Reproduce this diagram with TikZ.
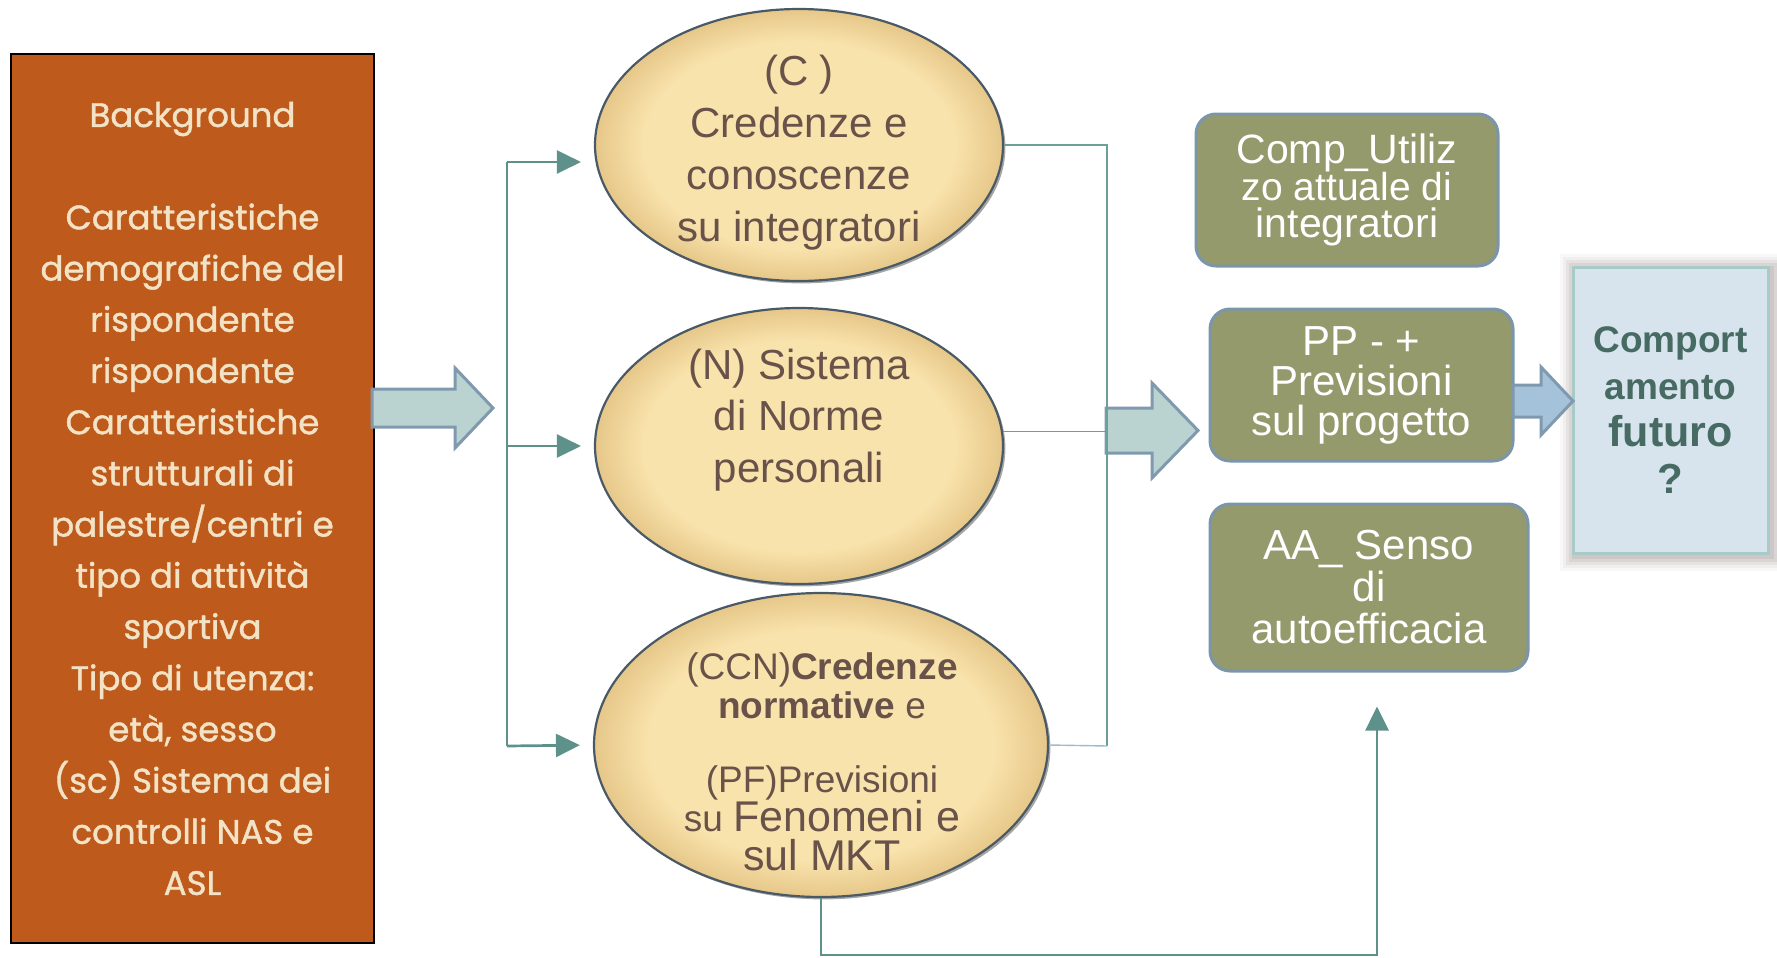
\documentclass[tikz,border=0pt]{standalone}
\usepackage{fontspec}
\setmainfont{Liberation Sans}
\newfontfamily\bgfont{Poppins}[FakeBold=1.2]
\usetikzlibrary{shapes.geometric,arrows.meta,calc,shadows,backgrounds}
\definecolor{orangebg}{HTML}{BE5B1C}
\definecolor{bgtext}{HTML}{F3E3C6}
\definecolor{conncol}{HTML}{5E918A}
\definecolor{thincol}{HTML}{6E9E99}
\definecolor{lbluecol}{HTML}{9BBBD0}
\definecolor{arrfill}{HTML}{BAD3D0}
\definecolor{arrdraw}{HTML}{7F99AF}
\definecolor{arrfilltwo}{HTML}{A4C2D9}
\definecolor{gfill}{HTML}{949A6B}
\definecolor{gborder}{HTML}{7B96AB}
\definecolor{cfill}{HTML}{D7E4EE}
\definecolor{cborder}{HTML}{A8CBC6}
\definecolor{ctext}{HTML}{476B63}
\definecolor{elllight}{HTML}{F9E3AC}
\definecolor{elldark}{HTML}{E6C789}
\definecolor{ellborder}{HTML}{4A5966}
\definecolor{elltext}{HTML}{68524A}
\definecolor{glowcol}{HTML}{B0A6A6}
\pgfdeclareradialshading{ellshade}{\pgfpoint{0bp}{0bp}}{color(0bp)=(elllight); color(19bp)=(elllight); color(25bp)=(elldark); color(50bp)=(elldark)}
\tikzset{
  bgbox/.style={draw=black, line width=1.2pt, fill=orangebg, minimum width=181.5pt, minimum height=444.5pt, inner sep=0pt, align=center, text=bgtext, font=\bgfont\fontsize{17}{25.6}\selectfont},
  ell/.style={ellipse, draw=ellborder, line width=1.1pt, shading=ellshade, inner sep=0pt, drop shadow={shadow xshift=1.2pt, shadow yshift=-1.2pt, opacity=0.35, fill=black}},
  elltxt/.style={align=center, text=elltext, inner sep=0pt},
  gbox/.style={rounded corners=10pt, draw=gborder, line width=1.5pt, fill=gfill, text=white, align=center, inner sep=0pt},
  cbox/.style={draw=cborder, line width=1.5pt, fill=cfill, text=ctext, align=center, inner sep=0pt, font=\bfseries\fontsize{18.5}{23.5}\selectfont},
  blockarrow/.style={draw=arrdraw, line width=1.5pt, line join=miter},
  conn/.style={draw=conncol, line width=1.35pt},
  connarrow/.style={conn, -{Triangle[length=12pt,width=11.5pt]}},
  thinconn/.style={draw=thincol, line width=0.7pt},
}
\begin{document}
\begin{tikzpicture}[x=0.5pt,y=-0.5pt]
\useasboundingbox (0,0) rectangle (1777,958);

% background box
\node[bgbox] (bg) at (192.5,498.5) {Background\\[25.6pt]Caratteristiche\\demografiche del\\rispondente\\rispondente\\Caratteristiche\\strutturali di\\palestre/centri e\\tipo di attività\\sportiva\\Tipo di utenza:\\età, sesso\\(sc) Sistema dei\\controlli NAS e\\ASL};

% ellipses
\node[ell, minimum width=204pt, minimum height=136pt] (e1) at (799,145) {};
\node[ell, minimum width=204pt, minimum height=138pt] (e2) at (799,446) {};
\node[ell, minimum width=227pt, minimum height=152pt] (e3) at (821,745) {};

\node[elltxt, font=\fontsize{21}{26}\selectfont] (t1) at (799,153) {(C )\\Credenze e\\conoscenze\\su integratori};
\node[elltxt, font=\fontsize{21}{25.8}\selectfont] (t2) at (799,420) {(N) Sistema\\di Norme\\personali};
\node[elltxt, font=\fontsize{18.5}{19.5}\selectfont] (t3) at (822,762) {(CCN)\textbf{Credenze}\\\textbf{normative} e\\[17.5pt](PF)Previsioni\\su {\fontsize{21.5}{19.5}\selectfont Fenomeni e}\\{\fontsize{21.5}{19.5}\selectfont sul MKT}};

% green boxes
\node[gbox, minimum width=151pt, minimum height=76pt, font=\fontsize{20.5}{18.5}\selectfont] (g1) at (1347,190) {Comp\_Utiliz\\{\fontsize{19.5}{18.5}\selectfont zo attuale di}\\integratori};
\node[gbox, minimum width=151.5pt, minimum height=76pt, font=\fontsize{21}{20}\selectfont] (g2) at (1361.5,385) {PP - +\\Previsioni\\sul progetto};
\node[gbox, minimum width=159pt, minimum height=83.5pt, font=\fontsize{21}{21}\selectfont] (g3) at (1369,587.5) {AA\_ Senso\\di\\autoefficacia};

% comportamento box with glow
\node[cbox, minimum width=97.5pt, minimum height=143pt] (cb) at (1670.5,410) {Comport\\amento\\{\fontsize{21.5}{23.5}\selectfont futuro}\\{\fontsize{21}{23.5}\selectfont ?}};
\begin{scope}[on background layer]
  \foreach \d/\o in {14/0.08, 11/0.12, 8/0.16, 5/0.22, 2/0.3}
    \fill[glowcol, opacity=\o] ($(cb.north west)+(-\d+2,-\d+2)$) rectangle ($(cb.south east)+(\d+2,\d+2)$);
\end{scope}

% block arrows
\draw[blockarrow, fill=arrfill] (372,389) -- (455,389) -- (455,368) -- (493,408) -- (455,448) -- (455,427) -- (372,427) -- cycle;
\draw[blockarrow, fill=arrfill] (1106,408) -- (1152,408) -- (1152,383) -- (1198,430.5) -- (1152,478) -- (1152,453) -- (1106,453) -- cycle;
\draw[blockarrow, fill=arrfilltwo] (1513,385) -- (1541,385) -- (1541,367) -- (1573,401) -- (1541,435) -- (1541,417) -- (1513,417) -- cycle;

% bracket to ellipses
\coordinate (bkt) at (507,162);
\coordinate (bkm) at (507,446);
\coordinate (bkb) at (507,746);
\draw[conn] (bkt) -- (bkb);
\draw[connarrow, shorten >=6.5pt] (bkt) -- (bkt -| e1.west);
\draw[connarrow, shorten >=6.5pt] (bkm) -- (e2.west);
\draw[connarrow, shorten >=6.5pt] (bkb) -- (e3.west);

% right collecting lines
\coordinate (rtop) at (1107,145);
\coordinate (rbot) at (1107,746);
\draw[thinconn] (e1.east) -- (rtop) -- (rbot);
\draw[thinconn] (e2.4) -- (e2.4 -| rtop);
\draw[draw=lbluecol, line width=0.7pt] (e3.east) -- (rbot);

% bottom feedback connector
\coordinate (fb) at (1377,955);
\draw[connarrow, shorten >=17pt] (e3.south) |- (fb) -- (fb |- g3.south);
\end{tikzpicture}
\end{document}
